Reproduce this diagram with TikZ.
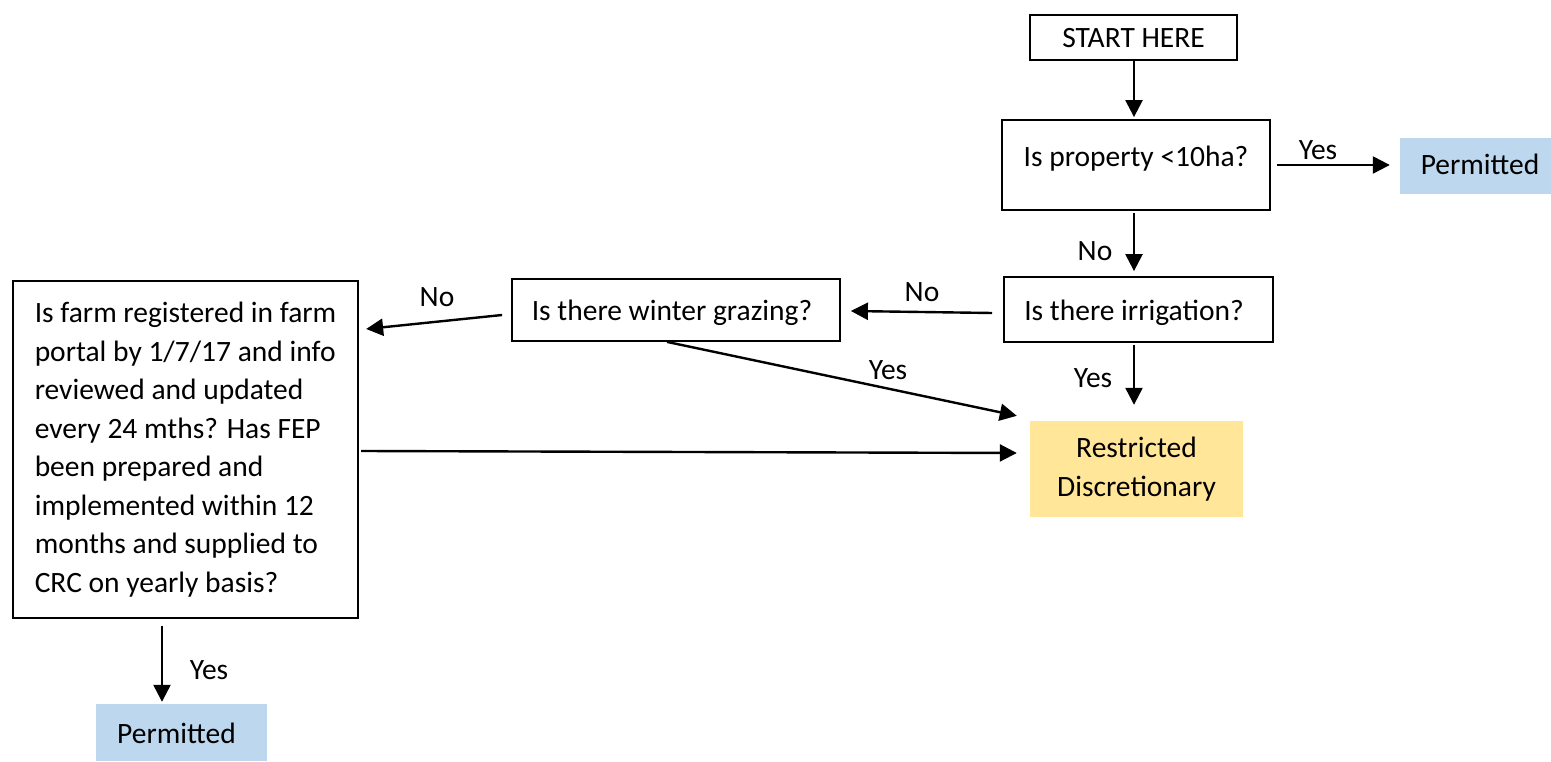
\documentclass[tikz,border=0pt]{standalone}
\usepackage{fontspec}
\setmainfont{Carlito}
\usetikzlibrary{arrows.meta,calc}
\definecolor{permblue}{HTML}{BDD7EE}
\definecolor{restryellow}{HTML}{FFE699}
\tikzset{
  txt/.style={font=\fontsize{29.5}{38.5}\selectfont},
  boxnode/.style={txt, draw, line width=1.8pt, inner ysep=0pt, inner xsep=0pt},
  fillnode/.style={txt, inner ysep=0pt, inner xsep=0pt},
  arr/.style={line width=2.4pt, -{Triangle[length=17pt,width=17pt]}},
  lbl/.style={txt, inner sep=0pt}
}
\begin{document}
\begin{tikzpicture}[x=1pt,y=-1pt]
\useasboundingbox (0,0) rectangle (1551,762);
% nodes
\node[boxnode, minimum width=207pt, text height=33pt, text depth=12pt] (start) at (1133.5,37.5) {START HERE};
\node[boxnode, minimum width=268pt, text height=47pt, text depth=43pt] (prop) at (1136,165) {Is property <10ha?};
\node[fillnode, fill=permblue, minimum width=151pt, text height=37pt, text depth=19pt] (perm1) at (1475.5,166) {\hspace*{9pt}Permitted};
\node[boxnode, minimum width=269pt, text height=43pt, text depth=22pt] (irr) at (1138.5,309.5) {Is there irrigation?\hspace*{9pt}};
\node[boxnode, minimum width=328pt, text height=41pt, text depth=21pt] (winter) at (676,310) {Is there winter grazing?\hspace*{8pt}};
\node[boxnode, minimum width=345pt, minimum height=337pt, inner xsep=22pt, align=left] (big) at (185.5,449.5)
  {Is farm registered in farm\\portal by 1/7/17 and info\\reviewed and updated\\every 24 mths? Has FEP\\been prepared and\\implemented within 12\\months and supplied to\\CRC on yearly basis?};
\node[fillnode, fill=restryellow, minimum width=213pt, minimum height=96pt, align=center] (restr) at (1136.5,469) {Restricted\\Discretionary};
\node[fillnode, fill=permblue, minimum width=171pt, text height=39pt, text depth=18pt] (perm2) at (181.5,732.5) {Permitted\hspace*{10pt}};
% connectors (shifts unitless: positive y = downwards)
\draw[arr] ([shift={(0.5,0)}]start.south) -- ([shift={(-2,-2)}]prop.north);
\draw[arr] ([shift={(6,0)}]prop.east) -- ([shift={(-10,-1)}]perm1.west);
\draw[arr] ([shift={(-2,2)}]prop.south) -- ([shift={(-4.5,-5)}]irr.north);
\draw[arr] ([shift={(-11,3.5)}]irr.west) -- ([shift={(10,1)}]winter.east);
\draw[arr] ([shift={(-9,5)}]winter.west) -- ([shift={(7,-120.5)}]big.east);
\draw[arr] ([shift={(-9,0)}]winter.south) -- ([shift={(-13,-5)}]restr.north west);
\draw[arr] ([shift={(-4.5,2)}]irr.south) -- ([shift={(-2.5,-16)}]restr.north);
\draw[arr] ([shift={(2,1.5)}]big.east) -- ([shift={(-13,-16)}]restr.west);
\draw[arr] ([shift={(-23.5,7)}]big.south) -- ([shift={(-19.5,-2)}]perm2.north);
% labels
\node[lbl] (l1) at (1318,150) {Yes};
\node[lbl] (l2) at (1095,251) {No};
\node[lbl] (l3) at (922,292) {No};
\node[lbl] (l4) at (437,297) {No};
\node[lbl] (l5) at (888,370) {Yes};
\node[lbl] (l6) at (1093,378) {Yes};
\node[lbl] (l7) at (209,670) {Yes};
\end{tikzpicture}
\end{document}
